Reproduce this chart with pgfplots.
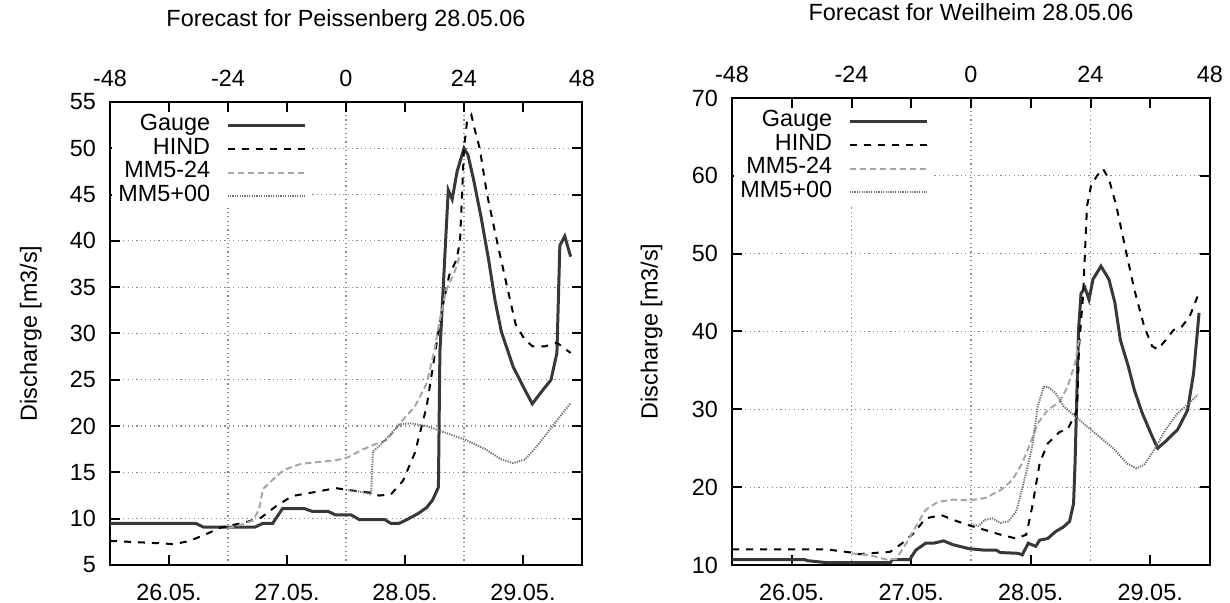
\documentclass[border=0pt]{standalone}
\usepackage{fontspec}
\setmainfont{Liberation Sans}
\usepackage{pgfplots}
\pgfplotsset{compat=1.18}

\newcommand\fs{\fontsize{11.7pt}{14pt}\selectfont}

\pgfplotsset{
  panel/.style={
    scale only axis, anchor=south west,
    xmin=-48, xmax=48,
    tick align=inside, major tick length=5pt,
    axis line style={line width=1pt},
    every tick/.style={black, line width=1pt},
    tick label style={font=\fs},
    /pgf/number format/assume math mode=true,
    grid style={black!45, line width=0.6pt, dash pattern=on 0.6pt off 1.6pt},
  },
  gauge/.style={black!78, line width=1.5pt},
  hind/.style={black, line width=1pt, dash pattern=on 3.5pt off 3.5pt},
  mm24/.style={black!35, line width=1pt, dash pattern=on 3.2pt off 1.8pt},
  mm00/.style={black!55, line width=1pt, dash pattern=on 0.6pt off 0.6pt},
  key/.style={
    legend plot pos=right, legend cell align=right,
    legend style={draw=none, fill=white, at={(0,1)}, anchor=north west,
      xshift=1pt, yshift=-5.5pt, inner xsep=3pt, inner ysep=0pt, font=\fs,
      row sep=0pt, nodes={inner sep=0pt, text height=8.5pt, text depth=3.35pt},
      /tikz/every odd column/.append style={column sep=8pt}},
    legend image code/.code={\draw[##1] (0pt,0pt) -- (34.5pt,0pt); \path (0pt,0pt) -- (38.5pt,0pt);},
  },
  hours/.style={
    xtick={-48,-24,0,24,48}, xticklabels={-48,-24,0,24,48},
    xticklabel pos=right, xtick pos=right, ytick=\empty,
    xmajorgrids, xticklabel style={yshift=4pt},
  },
  days/.style={
    xtick={-36,-12,12,36}, xticklabels={26.05.,27.05.,28.05.,29.05.},
    xticklabel style={yshift=-6pt}, yticklabel style={xshift=-3.5pt},
    ymajorgrids,
    ylabel={Discharge [m3/s]},
    ylabel style={font=\fs, at={(axis description cs:-0.144,0.5)}, anchor=south, inner sep=0pt},
  },
}

\begin{document}
\begin{tikzpicture}
\path[use as bounding box] (0,0) rectangle (615pt,301.5pt);

% titles
\node[font=\fs, anchor=base] at (173pt,288pt) {Forecast for Peissenberg 28.05.06};
\node[font=\fs, anchor=base] at (485.5pt,291pt) {Forecast for Weilheim 28.05.06};

% ---- Peissenberg ----
\begin{axis}[panel, hours, at={(55pt,19pt)}, width=236pt, height=231.5pt,
  ymin=5, ymax=55]
\end{axis}
\begin{axis}[panel, days, key, at={(55pt,19pt)}, width=236pt, height=231.5pt,
  ymin=5, ymax=55, ytick={5,10,...,55}]
\addplot[gauge] coordinates {
 (-48,9.5) (-30.6,9.5) (-29,9.1) (-18.5,9.1) (-16.9,9.5) (-14.9,9.5)
 (-12.9,11.1) (-8.5,11.1) (-6.9,10.8) (-3.7,10.8) (-2.1,10.4) (1.1,10.4)
 (2.7,9.9) (7.9,9.9) (9.1,9.5) (10.8,9.5) (12.4,9.9) (14.8,10.6) (16.4,11.2)
 (17.6,12.0) (18.8,13.4) (19.1,28) (20.8,45.5) (21.6,44.5) (22.6,47.5) (24,50)
 (24.8,49.3) (26,46.5) (27.5,42.5) (29,38) (30.3,33.6) (31.6,30.2) (34,26.4)
 (36.4,23.9) (37.9,22.4) (39.6,23.6) (41.7,25) (42.9,27.9) (43.5,39.5)
 (44.5,40.5) (45.7,38.3)};
\addlegendentry{Gauge}
\addplot[hind] coordinates {
 (-48,7.6) (-38,7.35) (-35,7.25) (-31.8,7.6) (-28.6,8.3) (-25.4,9.05)
 (-20.5,9.6) (-17.3,10.1) (-14.1,11.4) (-10.9,12.45) (-6.1,12.9) (-2.1,13.3)
 (1.9,13.0) (5.1,12.8) (6.7,12.5) (9.1,12.6) (11.6,14.1) (14,17.1) (16.4,22.1)
 (18,27.5) (19.5,32.5) (21,36.3) (22.5,38) (23.2,40) (23.6,45) (24,50)
 (24.6,52.8) (25.5,53.6) (26.2,52) (27.2,50) (28.7,45) (30.7,40) (32.7,35.2)
 (34.5,31) (36.4,29.3) (38,28.6) (40.4,28.6) (42.9,29) (45.7,27.9)};
\addlegendentry{HIND}
\addplot[mm24] coordinates {
 (-24,9.0) (-22.2,9.2) (-18.9,9.8) (-17.7,11) (-16.9,13.2) (-14.1,14.6)
 (-12.5,15.3) (-9.3,15.9) (-6.1,16.1) (-2.1,16.3) (0.3,16.6) (3.5,17.5)
 (6.7,18.2) (8.3,18.5) (10,19.6) (11.6,20.7) (14,22.1) (16.4,24.6) (18,28.2)
 (18.8,30.7) (20.4,34.7) (22,36.5) (23.2,38.5)};
\addlegendentry{MM5-24}
\addplot[mm00] coordinates {
 (0,13.1) (2,13.0) (4,12.8) (5.1,12.6) (5.5,17.3) (6.7,17.8) (8.7,18.9)
 (10.8,20.2) (13.2,20.3) (16.4,20.0) (19.6,19.4) (24.4,18.5) (28.4,17.5)
 (31.6,16.4) (34,16.0) (36.4,16.4) (38.8,17.8) (42,20.0) (45.7,22.5)};
\addlegendentry{MM5+00}
\end{axis}

% ---- Weilheim ----
\begin{axis}[panel, hours, at={(366pt,19pt)}, width=239pt, height=233.5pt,
  ymin=10, ymax=70]
\end{axis}
\begin{axis}[panel, days, key, at={(366pt,19pt)}, width=239pt, height=233.5pt,
  ymin=10, ymax=70, ytick={10,20,...,70},
  ylabel style={at={(axis description cs:-0.1444,0.5)}}]
\addplot[gauge] coordinates {
 (-48,10.7) (-33.5,10.7) (-32.8,10.55) (-28.9,10.3) (-16.2,10.3) (-15.8,10.7)
 (-12.3,10.7) (-11.1,11.9) (-9.1,12.8) (-7.5,12.8) (-5.5,13.1) (-3.6,12.6)
 (-0.4,12.1) (2.8,11.9) (5.1,11.9) (5.9,11.6) (9.5,11.5) (10.3,11.3)
 (11.5,12.8) (13,12.4) (13.8,13.2) (15.4,13.4) (17,14.3) (18.6,14.9)
 (19.8,15.6) (20.6,17.9) (20.9,23.1) (21.6,40.2) (22.1,44.9) (22.9,45.6)
 (23.7,44.1) (24.5,46.7) (26.1,48.4) (27.7,46.7) (28.9,43.7) (30,38.9)
 (31.6,35.5) (32.8,32.5) (34.4,29.5) (36.4,26.5) (37.5,25) (39.1,25.9)
 (41.5,27.4) (43.5,29.9) (44.7,34.6) (45.5,40.2) (45.8,42.4)};
\addlegendentry{Gauge}
\addplot[hind] coordinates {
 (-48,12) (-28.9,12) (-24.1,11.6) (-22.5,11.4) (-16.2,11.7) (-13.8,12.8)
 (-11.5,14.1) (-9.1,16) (-5.9,16.4) (-3.6,15.8) (-0.4,15.1) (2.8,14.5)
 (5.9,13.9) (9.1,13.4) (11.1,13.9) (12.3,17.5) (13.8,23.1) (15.4,25.6)
 (17.8,27.1) (19.4,27.4) (21.3,29.9) (21.7,38.1) (22.5,44.5) (23.3,56.1)
 (24.1,58.7) (25.3,60) (26.5,60.9) (27.7,59.6) (29.2,56.1) (31.2,50.1)
 (32.8,45.4) (34.8,40.6) (36.4,38.1) (37.5,37.7) (39.1,38.9) (40.7,40.2)
 (42.3,40.6) (43.9,41.9) (45.5,44.5)};
\addlegendentry{HIND}
\addplot[mm24] coordinates {
 (-24,11.5) (-20,11.2) (-17,10.7) (-15,10.8) (-13,12.8) (-11.5,14.5)
 (-9.1,17.1) (-6.7,18.1) (-3.6,18.4) (-0.4,18.3) (2.8,18.6) (5.9,19.6)
 (8.3,20.9) (10.3,23.1) (11.9,25.6) (13.4,28.2) (15.4,29.9) (17.8,31)
 (19.4,32.9) (20.9,35.9) (21.7,38.9)};
\addlegendentry{MM5-24}
\addplot[mm00] coordinates {
 (0,15.3) (1.5,15.0) (2.8,15.8) (4.3,16) (5.9,15.4) (7.5,15.6) (9.1,16.9)
 (10.7,20.9) (12.3,25.2) (13.4,30.4) (14.6,32.9) (15.4,32.9) (17,32.1)
 (18.6,30.4) (20.9,29.1) (23.3,27.8) (26.5,26.1) (28.9,24.8) (31.2,23.1)
 (33.2,22.4) (34.8,22.9) (36.8,24.8) (39.1,27.4) (41.5,29.5) (43.9,30.8)
 (45.5,31.9)};
\addlegendentry{MM5+00}
\end{axis}
\end{tikzpicture}
\end{document}
